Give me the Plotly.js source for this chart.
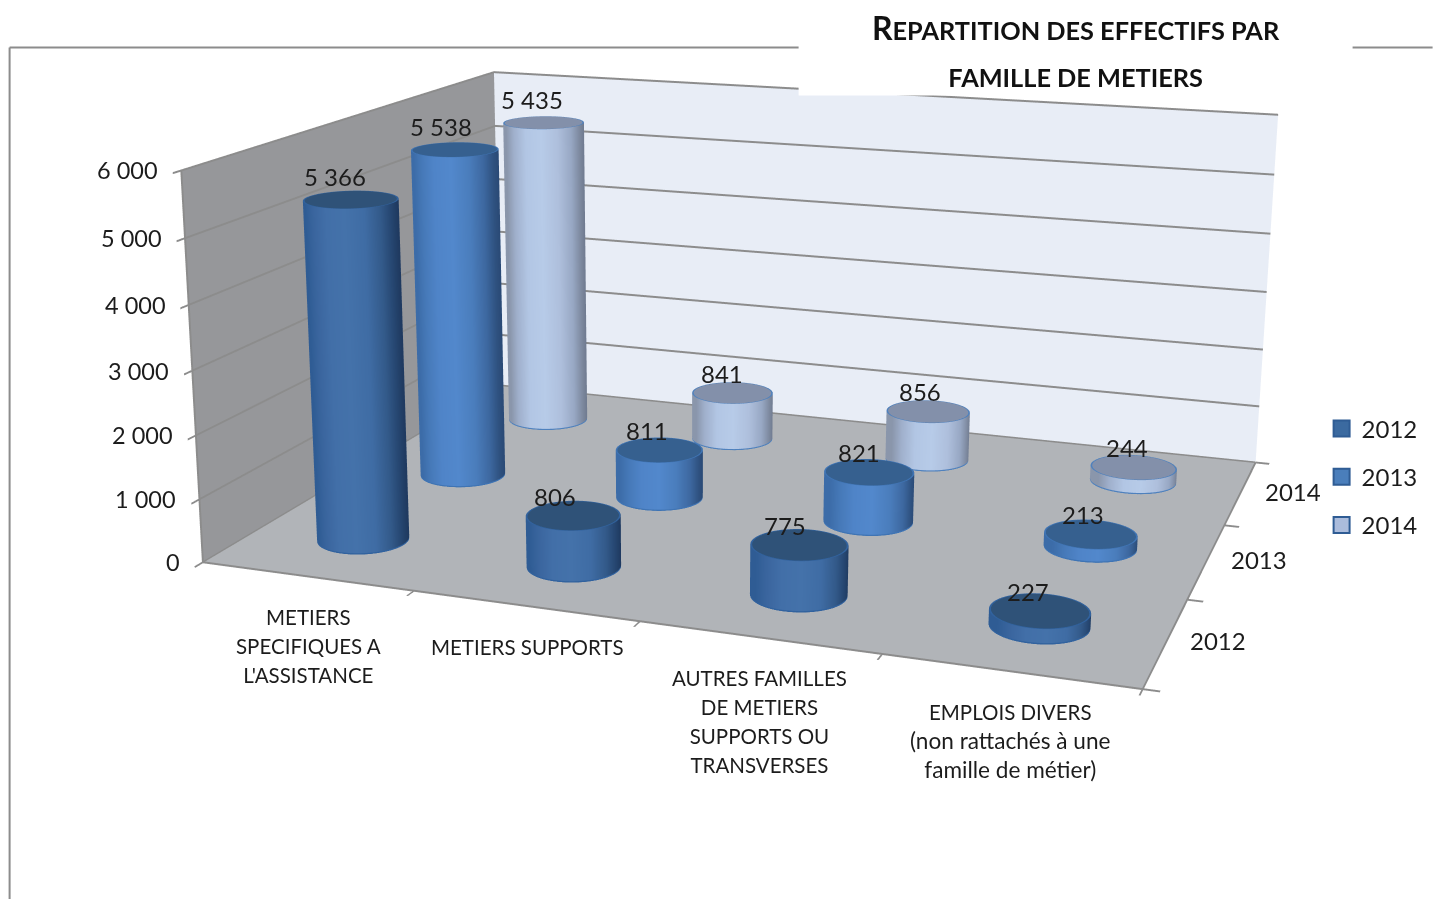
<!DOCTYPE html>
<html><head><meta charset="utf-8"><script src="https://cdn.plot.ly/plotly-3.0.1.min.js"></script>
<style>html,body{margin:0;padding:0;background:#fff;overflow:hidden;width:1433px;height:899px}#c{position:absolute}</style></head>
<body><div id="c"></div><script>
const categories=["METIERS<br>SPECIFIQUES A<br>L'ASSISTANCE","METIERS SUPPORTS","AUTRES FAMILLES<br>DE METIERS<br>SUPPORTS OU<br>TRANSVERSES","EMPLOIS DIVERS<br>(non rattachés à une<br>famille de métier)"];
const years=["2012","2013","2014"];
const values2012=[5366,806,775,227];
const values2013=[5538,811,821,213];
const values2014=[5435,841,856,244];
const valueLabels2012=["5 366","806","775","227"];
const valueLabels2013=["5 538","811","821","213"];
const valueLabels2014=["5 435","841","856","244"];
const zTicks=[0,1000,2000,3000,4000,5000,6000];
const zLabels=["0","1 000","2 000","3 000","4 000","5 000","6 000"];
// camera solved against the reference's box corners. Plotly's field of view is fixed at 45deg,
// so the plot div is larger than the window to reach the reference's narrower lens.
const ax=2.3678,ay=1.7925,ex=1.9825,ey=-5.9034,ez=1.5580,cx=-0.0127,cy=-0.5666;
const Wd=1498,Hd=2017,L=64.6,T=627.4;
const el=document.getElementById('c');el.style.cssText=`position:absolute;left:${-L}px;top:${-T}px;width:${Wd}px;height:${Hd}px`;
const px=v=>(v+L)/Wd,py=v=>1-(v+T)/Hd;
function sub(a,b){return[a[0]-b[0],a[1]-b[1],a[2]-b[2]]}
function cross(a,b){return[a[1]*b[2]-a[2]*b[1],a[2]*b[0]-a[0]*b[2],a[0]*b[1]-a[1]*b[0]]}
function norm(a){const l=Math.hypot(...a);return a.map(v=>v/l)}
const shade=[-1,-.9,-.7,-.4,0,.4,.7,.9,1];
const palettes=[
 {side:['#2f5c94','#2f5c94','#3a659e','#426fa8','#4472aa','#3f6ca4','#335a8a','#25456f','#1f3a60'],rim:'#31629e',top:'#2f5278'},
 {side:['#3c6ca8','#3c6ca8','#4679b8','#4f84c8','#5288cc','#4a7dbc','#3d68a0','#2f5280','#2a4a76'],rim:'#3f74b4',top:'#36608f'},
 {side:['#8a96ab','#8a96ab','#a0b0cc','#b2c6e4','#b7cbe8','#aebfdc','#98a8c4','#7d899f','#707b90'],rim:'#4f81bd',top:'#8390aa'}];
function scale(pal){const st=shade.map((s,i)=>[(s+1)/3,pal.side[i]]);st.push([.7,pal.rim],[.9,pal.rim],[.9,pal.top],[1,pal.top]);return st}
const rx=0.2,ry=(rx*ax/4)/(ay/3);
const viewR=norm(cross(norm(sub([cx,cy,0],[ex,ey,ez])),[0,0,1]));
const N=64,traces=[];
function cyl(xc,yc,h,si){const X=[],Y=[],Z=[],C=[];
 const rows=[[1,0,1.4],[1,22,1.4],[1,22,null],[1,h,null],[1,h,1.4],[.965,h,1.4],[.96,h,2],[0,h,2]];
 for(const[r,z,c]of rows){const a=[],b=[],d=[],e=[];for(let i=0;i<=N;i++){const t=2*Math.PI*i/N;
  a.push(xc+r*rx*Math.cos(t));b.push(yc+r*ry*Math.sin(t));d.push(z);
  e.push(c===null?Math.cos(t)*viewR[0]+Math.sin(t)*viewR[1]:c)}X.push(a);Y.push(b);Z.push(d);C.push(e)}
 return{type:'surface',x:X,y:Y,z:Z,surfacecolor:C,cmin:-1,cmax:2,colorscale:scale(palettes[si]),showscale:false,hoverinfo:'skip',
  lighting:{ambient:1,diffuse:0,specular:0,roughness:1,fresnel:0},contours:{x:{show:false},y:{show:false},z:{show:false}}}}
const series=[values2012,values2013,values2014],labels=[valueLabels2012,valueLabels2013,valueLabels2014];
series.forEach((vals,si)=>vals.forEach((v,ci)=>traces.push(cyl(ci,si,v,si))));
['#3b6aa0','#4a7ebb','#abbcdc'].forEach((col,i)=>traces.push({type:'scatter',x:[null],y:[null],mode:'markers',name:years[i],legendgroup:years[i],showlegend:true,
 marker:{symbol:'square',size:16,color:col,line:{color:'#2f5c94',width:2}},xaxis:'x',yaxis:'y',hoverinfo:'skip'}));
const txt='#1c1c1c',fam='Lato, sans-serif';
const ann=[];
const labelShift=[[-16,-18,-14,-12],[-14,-12,-10,-8],[-12,-10,-8,-7]];
series.forEach((vals,si)=>vals.forEach((v,ci)=>ann.push({x:ci,y:si,z:v,text:labels[si][ci],showarrow:false,xanchor:'center',yanchor:'bottom',xshift:labelShift[si][ci],yshift:ci===0?7:3,font:{family:fam,size:24,color:txt}})));
const catLine=s=>'<span style="font-size:'+(/[a-z]/.test(s)?22.6:20.5)+'px">'+s+'</span>';
categories.forEach((c,i)=>ann.push({x:i,y:-.5,z:0,text:c.split('<br>').map(catLine).join('<br>'),showarrow:false,xanchor:'center',yanchor:'top',xshift:i<2?2:0,yshift:-27,font:{family:fam,size:22.3,color:txt}}));
years.forEach((y,i)=>ann.push({x:3.5,y:i,z:0,text:y,showarrow:false,xanchor:'left',yanchor:'top',xshift:22,yshift:18,font:{family:fam,size:24,color:txt}}));
zTicks.forEach((z,i)=>ann.push({x:-.5,y:-.5,z:z,text:zLabels[i],showarrow:false,xanchor:'right',yanchor:'middle',xshift:-21,font:{family:fam,size:23.5,color:txt}}));
const axisBase={showspikes:false,zeroline:false,showticklabels:false,title:{text:''},showline:true,linecolor:'#8c8c8c',linewidth:4,mirror:false,ticks:'outside',ticklen:12,tickcolor:'#8c8c8c',tickwidth:4,showbackground:true};
const layout={width:Wd,height:Hd,margin:{l:0,r:0,t:0,b:0},paper_bgcolor:'rgba(0,0,0,0)',plot_bgcolor:'rgba(0,0,0,0)',
 title:{text:'<span style="font-size:32px"><b>R</b></span><b><span style="font-size:25.3px">EPARTITION DES EFFECTIFS PAR</span></b><br><b><span style="font-size:25.3px">FAMILLE DE METIERS</span></b>',x:px(1076),xanchor:'center',y:py(40),yanchor:'top',font:{family:fam,size:36,color:'#111'},automargin:false},
 xaxis:{visible:false,domain:[0,.01]},yaxis:{visible:false,domain:[0,.01]},
 legend:{x:px(1322),y:py(406),xanchor:'left',yanchor:'top',font:{family:fam,size:24,color:txt},tracegroupgap:14,bgcolor:'rgba(0,0,0,0)',itemwidth:30},
 shapes:[
  {type:'line',xref:'paper',yref:'paper',x0:px(10),x1:px(10),y0:py(47),y1:py(899),line:{color:'#8c8c8c',width:2}},
  {type:'line',xref:'paper',yref:'paper',x0:px(10),x1:px(1433),y0:py(47),y1:py(47),line:{color:'#8c8c8c',width:2}},
  {type:'rect',layer:'above',xref:'paper',yref:'paper',x0:px(799),x1:px(1353),y0:py(0),y1:py(95),line:{width:0},fillcolor:'#fff'}],
 scene:{domain:{x:[0,1],y:[0,1]},bgcolor:'rgba(0,0,0,0)',aspectmode:'manual',aspectratio:{x:ax,y:ay,z:1},
  camera:{eye:{x:ex,y:ey,z:ez},center:{x:cx,y:cy,z:0},up:{x:0,y:0,z:1},projection:{type:'perspective'}},
  xaxis:{...axisBase,range:[-.5,3.5],tickmode:'array',tickvals:[-.5,.5,1.5,2.5,3.5],ticktext:['','','','',''],showgrid:false,backgroundcolor:'#96979a'},
  yaxis:{...axisBase,range:[-.5,2.5],tickmode:'array',tickvals:[-.5,.5,1.5,2.5],ticktext:['','','',''],showgrid:false,backgroundcolor:'#e8edf6'},
  zaxis:{...axisBase,range:[0,6000],tickmode:'array',tickvals:zTicks,ticktext:zLabels,showgrid:true,gridcolor:'#8c8c8c',gridwidth:4,backgroundcolor:'#b1b4b8'},
  annotations:ann}};
Plotly.newPlot('c',traces,layout,{displayModeBar:false});
</script></body></html>
